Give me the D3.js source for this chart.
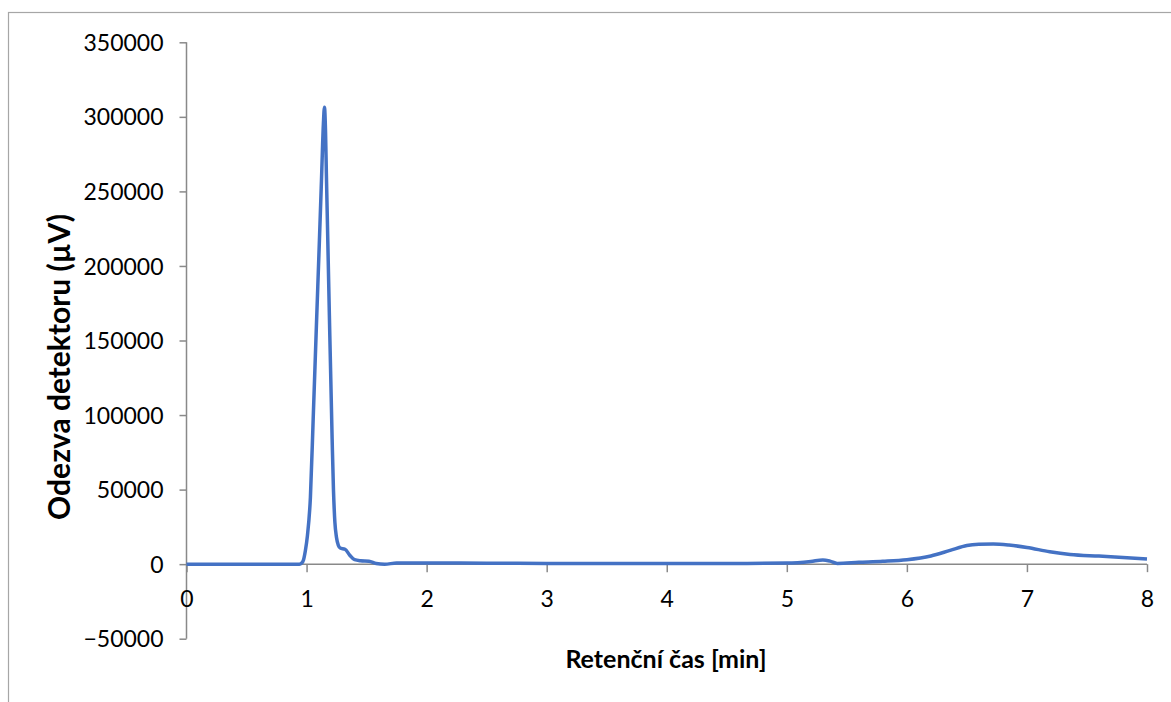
<!DOCTYPE html>
<html>
<head>
<meta charset="utf-8">
<script src="https://cdn.jsdelivr.net/npm/d3@7"></script>
<style>
  body { margin: 0; background: #fff; }
  svg { display: block; }
  .tick text { font-family: Lato, "Open Sans", sans-serif; font-size: 23px; fill: #000; }
  .title { font-family: Lato, "Open Sans", sans-serif; font-weight: bold; fill: #000; }
</style>
</head>
<body>
<div id="chart"></div>
<script>
// retenční čas [min] a odezva detektoru [µV]
const casy = [0, 0.5, 0.9, 0.94, 0.96, 0.975, 0.99, 1.007, 1.032, 1.055, 1.082, 1.107, 1.124, 1.14, 1.149,
  1.158, 1.165, 1.174, 1.19, 1.213, 1.224, 1.236, 1.249, 1.265, 1.28, 1.32, 1.36, 1.4, 1.45, 1.52, 1.58, 1.65,
  1.75, 2, 2.5, 3, 3.5, 4, 4.5, 5, 5.2, 5.3, 5.36, 5.42, 5.6, 5.8, 6, 6.2, 6.36, 6.5, 6.6, 6.72, 6.85,
  7, 7.19, 7.36, 7.6, 7.8, 8]
const odezva = [0, 0, 0, 0, 800, 3000, 9000, 19000, 44800, 97000, 160000, 217000, 257000, 295000, 306500,
  290000, 262000, 228000, 167000, 84000, 50000, 28000, 18000, 12500, 10800, 10000, 6000, 3000, 2300, 2000, 500, 0,
  700, 800, 600, 500, 450, 400, 450, 700, 1800, 2800, 2000, 500, 1200, 1900, 3000, 5500, 9200, 12500, 13300, 13500, 12800,
  11200, 8300, 6500, 5400, 4500, 3400]

const xTicks = [0, 1, 2, 3, 4, 5, 6, 7, 8]
const yTicks = [-50000, 0, 50000, 100000, 150000, 200000, 250000, 300000, 350000]

const width = 1171
const height = 702

const svg = d3.select('#chart')
  .append('svg')
  .attr('width', width)
  .attr('height', height)

svg.append('rect')
  .attr('x', 8.5)
  .attr('y', 12.5)
  .attr('width', 1300)
  .attr('height', 1000)
  .attr('fill', '#fff')
  .attr('stroke', '#a6a6a6')
  .attr('stroke-width', 1.2)

const x = d3.scaleLinear().domain([0, 8]).range([186.5, 1147])
const y = d3.scaleLinear().domain([-50000, 350000]).range([638.7, 42.3])

const yAxis = d3.axisLeft(y)
  .tickValues(yTicks)
  .tickFormat(d3.format('d'))
  .tickSize(7)
  .tickPadding(16)

const gy = svg.append('g')
  .attr('transform', `translate(${x(0)},0)`)
  .call(yAxis)
gy.selectAll('.tick text').attr('dy', '0.35em')

const xAxis = d3.axisBottom(x)
  .tickValues(xTicks)
  .tickFormat(d3.format('d'))
  .tickSize(8)
  .tickPadding(19)

const gx = svg.append('g')
  .attr('transform', `translate(0,${y(0)})`)
  .call(xAxis)

svg.selectAll('.domain, .tick line')
  .attr('stroke', '#898989')
  .attr('stroke-width', 1.5)
svg.selectAll('.domain').attr('d', function() {
  return this.parentNode === gx.node()
    ? `M${x(0)},0H${x(8)}`
    : `M0,${y(-50000)}V${y(350000)}`
})

const line = d3.line()
  .x(d => x(d[0]))
  .y(d => y(d[1]))
  .curve(d3.curveMonotoneX)

svg.append('path')
  .datum(casy.map((c, i) => [c, odezva[i]]))
  .attr('fill', 'none')
  .attr('stroke', '#4472C4')
  .attr('stroke-width', 3.5)
  .attr('stroke-linejoin', 'round')
  .attr('d', line)

svg.append('text')
  .attr('class', 'title')
  .attr('x', 666)
  .attr('y', 668)
  .attr('text-anchor', 'middle')
  .style('font-size', '25px')
  .text('Retenční čas [min]')

svg.append('text')
  .attr('class', 'title')
  .attr('transform', 'translate(70,367) rotate(-90)')
  .attr('text-anchor', 'middle')
  .style('font-size', '30px')
  .text('Odezva detektoru (µV)')
</script>
</body>
</html>
